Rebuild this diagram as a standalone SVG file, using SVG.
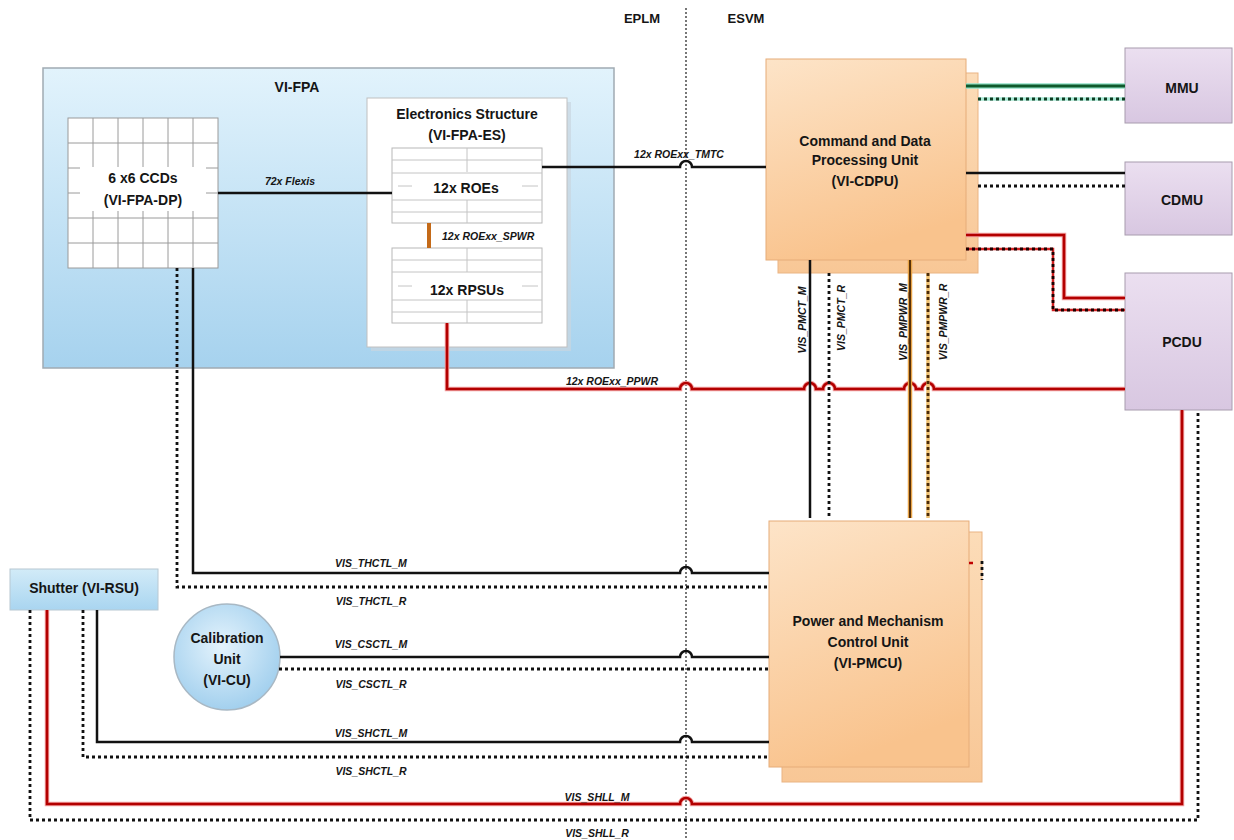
<svg xmlns="http://www.w3.org/2000/svg" width="1234" height="840" viewBox="0 0 1234 840">
<defs>
  <linearGradient id="gFpa" x1="0" y1="0" x2="0" y2="1">
    <stop offset="0" stop-color="#e2f3fc"/>
    <stop offset="1" stop-color="#a6d2ee"/>
  </linearGradient>
  <linearGradient id="gOr" x1="0" y1="0" x2="0.3" y2="1">
    <stop offset="0" stop-color="#fde4c8"/>
    <stop offset="1" stop-color="#f9c38d"/>
  </linearGradient>
  <linearGradient id="gOrB" x1="0" y1="0" x2="0" y2="1">
    <stop offset="0" stop-color="#fcdcb8"/>
    <stop offset="1" stop-color="#f8c796"/>
  </linearGradient>
  <linearGradient id="gPu" x1="0" y1="0" x2="0" y2="1">
    <stop offset="0" stop-color="#ebdff0"/>
    <stop offset="1" stop-color="#d8c7e1"/>
  </linearGradient>
  <linearGradient id="gSh" x1="0" y1="0" x2="0" y2="1">
    <stop offset="0" stop-color="#d2ebf8"/>
    <stop offset="1" stop-color="#a9d5f0"/>
  </linearGradient>
  <radialGradient id="gCu" cx="0.45" cy="0.4" r="0.6">
    <stop offset="0" stop-color="#e4f3fc"/>
    <stop offset="1" stop-color="#a3d0ee"/>
  </radialGradient>
</defs>
<style>
  .t{font-family:"Liberation Sans",Arial,sans-serif;font-weight:bold;fill:#151515}
  .n{font-size:14px;text-anchor:middle}
  .l{font-size:10.5px;font-style:italic}
  .lc{font-size:10.5px;font-style:italic;text-anchor:middle}
  .s{stroke:#111;stroke-width:2.5;fill:none}
  .d{stroke:#111;stroke-width:2.8;fill:none;stroke-dasharray:3 3}
  .rw{stroke:#f2a0a0;stroke-width:4.5;fill:none}
  .r{stroke:#b30000;stroke-width:2.6;fill:none}
  .div{stroke:#555;stroke-width:1.6;fill:none;stroke-dasharray:2 2}
  .gl{stroke:#c4c4c4;stroke-width:1;fill:none}
  .grid{stroke:#9a9a9a;stroke-width:1;fill:none}
</style>

<g id="boundary">
  <line class="div" x1="686" y1="8" x2="686" y2="840"/>
  <text class="t" x="642" y="23" font-size="13" text-anchor="middle">EPLM</text>
  <text class="t" x="746" y="23" font-size="13" text-anchor="middle">ESVM</text>
</g>

<g id="vi-fpa">
  <rect x="43" y="68" width="571" height="300" fill="url(#gFpa)" stroke="#a0aab2" stroke-width="1.5"/>
  <text class="t n" x="297" y="92">VI-FPA</text>
</g>

<g id="ccds">
  <rect x="68" y="118" width="150" height="150" fill="#ffffff" stroke="#9a9a9a"/>
  <path class="grid" d="M93 118V268M118 118V268M143 118V268M168 118V268M193 118V268M68 143H218M68 168H218M68 193H218M68 218H218M68 243H218"/>
  <rect x="80" y="167" width="126" height="44" fill="#ffffff"/>
  <text class="t n" x="143" y="183">6 x6 CCDs</text>
  <text class="t n" x="143" y="205">(VI-FPA-DP)</text>
</g>

<g id="es">
  <rect x="371" y="102" width="200" height="249" fill="#c9d6df" opacity="0.7"/>
  <rect x="367" y="98" width="200" height="249" fill="#ffffff" stroke="#c0c0c0"/>
  <text class="t n" x="467" y="119">Electronics Structure</text>
  <text class="t n" x="467" y="140">(VI-FPA-ES)</text>
</g>

<g id="roes">
  <rect x="392" y="148" width="150" height="75" fill="#ffffff" stroke="#b8b8b8"/>
  <path class="gl" d="M392 160H542M392 173H542M392 200H542M392 212H542M467 148V172M467 200V223M398 186H412M522 186H538"/>
  <text class="t n" x="466" y="193">12x ROEs</text>
</g>

<g id="rpsus">
  <rect x="392" y="248" width="150" height="75" fill="#ffffff" stroke="#b8b8b8"/>
  <path class="gl" d="M392 260H542M392 272H542M392 300H542M392 312H542M467 248V272M467 300V323M398 286H412M522 286H538"/>
  <text class="t n" x="467" y="295">12x RPSUs</text>
</g>

<g id="cdpu">
  <rect x="778" y="73" width="200" height="200" fill="url(#gOrB)" stroke="#eab483"/>
  <rect x="766" y="59" width="200" height="201" fill="url(#gOr)" stroke="#e6ac78"/>
  <text class="t n" x="865" y="146" font-size="14.5">Command and Data</text>
  <text class="t n" x="865" y="165" font-size="14.5">Processing Unit</text>
  <text class="t n" x="865" y="186" font-size="14.5">(VI-CDPU)</text>
</g>

<g id="pmcu">
  <rect x="782" y="532" width="200" height="250" fill="url(#gOrB)" stroke="#eab483"/>
  <rect x="769" y="521" width="200" height="246" fill="url(#gOr)" stroke="#e6ac78"/>
  <text class="t n" x="868" y="626" font-size="14.5">Power and Mechanism</text>
  <text class="t n" x="868" y="647" font-size="14.5">Control Unit</text>
  <text class="t n" x="868" y="668" font-size="14.5">(VI-PMCU)</text>
</g>

<g id="mmu">
  <rect x="1125" y="48" width="107" height="75" fill="url(#gPu)" stroke="#a89cae"/>
  <text class="t n" x="1182" y="93">MMU</text>
</g>
<g id="cdmu">
  <rect x="1125" y="162" width="107" height="73" fill="url(#gPu)" stroke="#a89cae"/>
  <text class="t n" x="1182" y="205">CDMU</text>
</g>
<g id="pcdu">
  <rect x="1125" y="273" width="107" height="137" fill="url(#gPu)" stroke="#a89cae"/>
  <text class="t n" x="1182" y="347">PCDU</text>
</g>

<g id="shutter">
  <rect x="10" y="569" width="148" height="41" fill="url(#gSh)" stroke="#b8c8d2"/>
  <text class="t n" x="84" y="593">Shutter (VI-RSU)</text>
</g>

<g id="cu">
  <circle cx="227" cy="657" r="53" fill="url(#gCu)" stroke="#a8b8c4" stroke-width="1.5"/>
  <text class="t n" x="227" y="643">Calibration</text>
  <text class="t n" x="227" y="664">Unit</text>
  <text class="t n" x="227" y="685">(VI-CU)</text>
</g>

<g id="connectors">
  <path class="s" d="M218 193H392"/>
  <text class="t lc" x="290" y="185">72x Flexis</text>
  <path d="M429 223V248" stroke="#c46a18" stroke-width="4" fill="none"/>
  <text class="t l" x="442" y="240">12x ROExx_SPWR</text>

  <path class="s" d="M542 167H680a6 6 0 0 1 12 0H766"/>
  <text class="t lc" x="679" y="158">12x ROExx_TMTC</text>

  <path class="rw" d="M447 323V389H680a6 6 0 0 1 12 0H804a6 6 0 0 1 12 0H823a6 6 0 0 1 12 0H904a6 6 0 0 1 12 0H922a6 6 0 0 1 12 0H1125"/>
  <path class="r" d="M447 323V389H680a6 6 0 0 1 12 0H804a6 6 0 0 1 12 0H823a6 6 0 0 1 12 0H904a6 6 0 0 1 12 0H922a6 6 0 0 1 12 0H1125"/>
  <text class="t lc" x="612" y="385">12x ROExx_PPWR</text>

  <path d="M966 86H1125" stroke="#92e2c8" stroke-width="5.5" fill="none"/>
  <path d="M966 86H1125" stroke="#0f5a2c" stroke-width="3" fill="none"/>
  <path d="M978 99H1125" stroke="#a8ead6" stroke-width="3.5" fill="none"/>
  <path d="M978 99H1125" stroke="#103c22" stroke-width="2.8" fill="none" stroke-dasharray="3 3"/>

  <path class="s" d="M966 173H1125"/>
  <path class="d" d="M978 186H1125"/>

  <path class="rw" d="M966 235H1064V298H1125"/>
  <path class="r" d="M966 235H1064V298H1125"/>
  <path d="M966 249H1053V310H1125" stroke="#d02020" stroke-width="2.5" fill="none"/>
  <path d="M966 249H1053V310H1125" stroke="#1a0000" stroke-width="2.8" fill="none" stroke-dasharray="3 3"/>

  <path class="s" d="M810 260V518"/>
  <path class="d" d="M829 273V518"/>
  <path d="M910 260V518" stroke="#e8a448" stroke-width="4.5" fill="none"/>
  <path d="M910 260V518" stroke="#5a3208" stroke-width="2" fill="none"/>
  <path d="M928 273V518" stroke="#efc070" stroke-width="3.5" fill="none"/>
  <path d="M928 273V518" stroke="#4a2a08" stroke-width="2.8" fill="none" stroke-dasharray="3 3"/>
  <text class="t l" transform="translate(806 320) rotate(-90)" text-anchor="middle">VIS_PMCT_M</text>
  <text class="t l" transform="translate(845 318) rotate(-90)" text-anchor="middle">VIS_PMCT_R</text>
  <text class="t l" transform="translate(907 322) rotate(-90)" text-anchor="middle">VIS_PMPWR_M</text>
  <text class="t l" transform="translate(947 322) rotate(-90)" text-anchor="middle">VIS_PMPWR_R</text>

  <path class="s" d="M193 268V573H680a6 6 0 0 1 12 0H769"/>
  <path class="d" d="M177 268V587H769"/>
  <text class="t lc" x="371" y="567">VIS_THCTL_M</text>
  <text class="t lc" x="371" y="605">VIS_THCTL_R</text>

  <path class="s" d="M280 657H680a6 6 0 0 1 12 0H769"/>
  <path class="d" d="M279 669H769"/>
  <text class="t lc" x="371" y="648">VIS_CSCTL_M</text>
  <text class="t lc" x="371" y="688">VIS_CSCTL_R</text>

  <path class="s" d="M97 610V742H680a6 6 0 0 1 12 0H769"/>
  <path class="d" d="M83 610V757H769"/>
  <text class="t lc" x="371" y="737">VIS_SHCTL_M</text>
  <text class="t lc" x="371" y="775">VIS_SHCTL_R</text>

  <path class="rw" d="M47 610V804H680a6 6 0 0 1 12 0H1182V410"/>
  <path class="r" d="M47 610V804H680a6 6 0 0 1 12 0H1182V410"/>
  <path class="d" d="M30 610V820H1198V410"/>
  <text class="t lc" x="597" y="801">VIS_SHLL_M</text>
  <text class="t lc" x="597" y="837">VIS_SHLL_R</text>

  <path d="M969 563H973" stroke="#c00000" stroke-width="2.5" fill="none"/>
  <path class="d" d="M982 561V580"/>
</g>
</svg>
